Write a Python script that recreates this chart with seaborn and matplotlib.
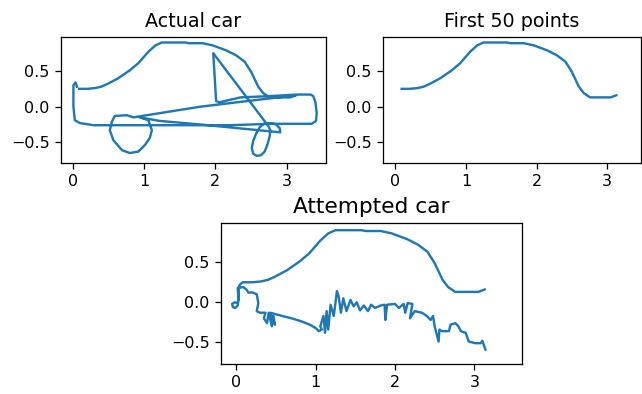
import numpy as np
import matplotlib
matplotlib.use("Agg")
import matplotlib.pyplot as plt
import seaborn as sns

# roof stroke = first points of the drawing
roof_x = [0.09, 0.2, 0.31, 0.4, 0.49, 0.64, 0.8, 0.92, 1.06, 1.16, 1.25, 1.4, 1.58,
          1.63, 1.82, 1.96, 2.15, 2.29, 2.41, 2.5, 2.6, 2.67, 2.76, 2.9, 3.05, 3.13]
roof_y = [0.25, 0.25, 0.26, 0.28, 0.32, 0.40, 0.51, 0.61, 0.77, 0.86, 0.90, 0.90, 0.90,
          0.89, 0.89, 0.86, 0.79, 0.72, 0.63, 0.49, 0.28, 0.19, 0.13, 0.13, 0.13, 0.16]

# rest of the real drawing (diagonal, wheels, triangle, body outline)
body_x = [1.79, 0.85,
          0.76, 0.59, 0.55, 0.52, 0.57, 0.69, 0.80, 0.92, 1.01, 1.08, 1.11, 1.06, 0.94,
          1.22, 1.79, 2.91,
          2.90, 2.85, 2.78, 2.68, 2.62, 2.57, 2.53, 2.51, 2.53, 2.58, 2.64, 2.69, 2.73,
          2.76, 2.77, 2.74,
          1.97, 2.01, 2.05, 2.35, 2.58, 2.80, 3.14, 3.33, 3.37,
          3.40, 3.42, 3.41, 3.35, 2.80, 2.20, 1.50, 0.50, 0.29, 0.10, 0.03,
          0.01, 0.01, 0.04, 0.06]
body_y = [0.0, -0.15,
          -0.12, -0.13, -0.21, -0.33, -0.47, -0.61, -0.65, -0.63, -0.54, -0.44, -0.33, -0.19, -0.15,
          -0.20, -0.25, -0.36,
          -0.30, -0.25, -0.23, -0.24, -0.29, -0.38, -0.48, -0.58, -0.66, -0.69, -0.68, -0.63, -0.53,
          -0.42, -0.33, -0.27,
          0.75, 0.08, 0.06, 0.13, 0.14, 0.15, 0.17, 0.17, 0.15,
          0.07, -0.09, -0.20, -0.24, -0.24, -0.26, -0.26, -0.26, -0.26, -0.23, -0.19,
          0.0, 0.30, 0.34, 0.28]

# generated continuation
gen_x = [0.07, 0.04, 0.03, 0.03, 0.02, -0.01, -0.04, -0.05, -0.02, 0.02, 0.03, 0.02,
         0.09, 0.13, 0.156, 0.20, 0.26, 0.28, 0.26, 0.30, 0.37, 0.35, 0.39, 0.41,
         0.45, 0.47, 0.49, 0.43, 0.58, 0.70, 0.83, 0.93, 1.0, 1.04, 1.08,
         1.06, 1.10, 1.12, 1.14, 1.16, 1.19, 1.23, 1.27, 1.29, 1.32, 1.35, 1.39,
         1.44, 1.48, 1.52, 1.56, 1.61, 1.66, 1.70, 1.75, 1.82, 1.87, 1.88, 1.90,
         2.0, 2.05, 2.11, 2.13, 2.16, 2.22, 2.19, 2.25,
         2.34, 2.40, 2.45, 2.48, 2.50, 2.55, 2.56, 2.59, 2.68, 2.70, 2.76, 2.80,
         2.83, 2.89, 2.93, 3.01, 3.08, 3.10, 3.14]
gen_y = [0.24, 0.21, 0.12, 0.03, -0.04, -0.07, -0.06, -0.02, 0.0, -0.01, 0.06, 0.18,
         0.19, 0.16, 0.12, 0.125, 0.10, -0.01, -0.11, -0.13, -0.13, -0.20, -0.26, -0.13,
         -0.30, -0.17, -0.28, -0.13, -0.17, -0.20, -0.24, -0.28, -0.32, -0.36, -0.34,
         -0.30, -0.17, -0.38, -0.11, -0.34, -0.03, -0.17, 0.14, 0.08, -0.13, 0.05, -0.11,
         0.03, -0.05, 0.0, -0.10, -0.04, -0.11, -0.03, -0.07, -0.04, -0.03, -0.22, -0.03,
         -0.02, -0.07, -0.02, -0.13, -0.01, -0.02, -0.20, -0.11,
         -0.13, -0.17, -0.22, -0.17, -0.30, -0.49, -0.34, -0.36, -0.36, -0.28, -0.26, -0.30,
         -0.36, -0.38, -0.49, -0.51, -0.51, -0.48, -0.59]

car_x = roof_x + body_x
car_y = roof_y + body_y

W, H, DPI = 642, 394, 115
fig = plt.figure(figsize=(W / DPI, H / DPI), dpi=DPI)


def box(l, t, r, b):
    return [l / W, 1 - b / H, (r - l) / W, (b - t) / H]


def line(ax, x, y):
    sns.lineplot(x=x, y=y, sort=False, estimator=None, ax=ax, color="#1f77b4")


ax1 = fig.add_axes(box(61, 37, 326, 163))
line(ax1, car_x, car_y)
ax1.set_xlim(-0.164, 3.55)
ax1.set_ylim(-0.79, 0.977)
ax1.set_title("Actual car", fontsize=12)

ax2 = fig.add_axes(box(383, 37, 641, 163))
line(ax2, roof_x, roof_y)
ax2.set_xlim(-0.174, 3.48)
ax2.set_ylim(-0.79, 0.977)
ax2.set_title("First 50 points", fontsize=12)

ax3 = fig.add_axes(box(221, 223, 522, 364))
line(ax3, roof_x, roof_y)
line(ax3, gen_x, gen_y)
ax3.set_xlim(-0.19, 3.60)
ax3.set_ylim(-0.77, 0.99)
ax3.set_title("Attempted car", fontsize=13.5)

for ax in (ax1, ax2, ax3):
    ax.set_xticks([0, 1, 2, 3])
    ax.set_yticks([-0.5, 0.0, 0.5])

fig.savefig("out.png", dpi=DPI)
